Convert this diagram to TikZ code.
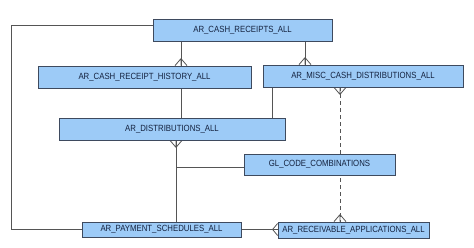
\documentclass[tikz,border=0pt]{standalone}
\usepackage{fontspec}
\setmainfont{Liberation Sans}
\usetikzlibrary{backgrounds}
\definecolor{boxfill}{HTML}{9DCBF7}
\definecolor{boxline}{HTML}{3E4A5E}
\definecolor{linec}{HTML}{555555}
\definecolor{txt}{HTML}{14223F}
\tikzset{
  tbl/.style={draw=boxline, line width=0.8pt, fill=boxfill, text=txt, inner sep=0pt,
    font=\fontsize{7.8}{9}\selectfont},
  rel/.style={draw=linec, line width=0.8pt},
  reld/.style={rel, dash pattern=on 4pt off 3pt},
}
\newcommand\tname[1]{\scalebox{1}[1.15]{#1}}
\newcommand\crowfoot[3][7]{\draw[rel, shift={(#2)}, rotate=#3] (#1,0) -- (0,6) (#1,0) -- (0,-6) (#1,0) -- (0,0);}
\begin{document}
\begin{tikzpicture}[x=1pt,y=1pt]
\useasboundingbox (0,0) rectangle (474,248);
\node[tbl, minimum width=179pt, minimum height=22pt] (cr) at (242.5,218) {\tname{AR\_CASH\_RECEIPTS\_ALL}};
\node[tbl, minimum width=213pt, minimum height=22pt] (hist) at (144.5,171) {\tname{AR\_CASH\_RECEIPT\_HISTORY\_ALL}};
\node[tbl, minimum width=200pt, minimum height=22pt] (misc) at (363,172) {\tname{AR\_MISC\_CASH\_DISTRIBUTIONS\_ALL}};
\node[tbl, minimum width=226pt, minimum height=22pt] (dist) at (172,119) {\tname{AR\_DISTRIBUTIONS\_ALL}};
\node[tbl, minimum width=151pt, minimum height=21pt] (gl) at (319.5,83.5) {\tname{GL\_CODE\_COMBINATIONS}};
\node[tbl, minimum width=159pt, minimum height=15pt] (ps) at (161.5,18.5) {\tname{AR\_PAYMENT\_SCHEDULES\_ALL}};
\node[tbl, minimum width=151pt, minimum height=16pt] (ra) at (353.5,18) {\tname{AR\_RECEIVABLE\_APPLICATIONS\_ALL}};
\coordinate (lx) at (11,0);
\coordinate (x1) at (181,0);
\coordinate (x2) at (305,0);
\coordinate (x3) at (272,0);
\coordinate (x4) at (176,0);
\coordinate (x5) at (340,0);
\coordinate (yb) at (0,81);
\begin{pgfonlayer}{background}
  % cash receipts to payment schedules (left loop)
  \draw[rel] ([yshift=5pt]cr.west) -| (lx |- ps.west) -- (ps.west);
  % cash receipts to history
  \draw[rel] (x1 |- cr.south) -- (x1 |- hist.north);
  \crowfoot{x1 |- hist.north}{90}
  % cash receipts to misc
  \draw[rel] (x2 |- cr.south) -- (x2 |- misc.north);
  \crowfoot{x2 |- misc.north}{90}
  % history to distributions
  \draw[rel] (x1 |- hist.south) -- (x1 |- dist.north);
  % misc to distributions
  \draw[rel] (x3 |- misc.south) -- (x3 |- dist.north);
  % distributions to payment schedules and gl
  \draw[rel] (x4 |- dist.south) -- (x4 |- ps.north);
  \crowfoot{x4 |- dist.south}{270}
  \draw[rel] (x4 |- yb) -- (gl.west |- yb);
  % misc to receivable applications (dashed)
  \draw[reld] (x5 |- misc.south) -- (x5 |- ra.north);
  \crowfoot{x5 |- misc.south}{270}
  \crowfoot{x5 |- ra.north}{90}
  % payment schedules to receivable applications
  \draw[rel] (ps.east) -- (ps.east -| ra.west);
  \crowfoot[5]{ps.east -| ra.west}{180}
\end{pgfonlayer}
\end{tikzpicture}
\end{document}
